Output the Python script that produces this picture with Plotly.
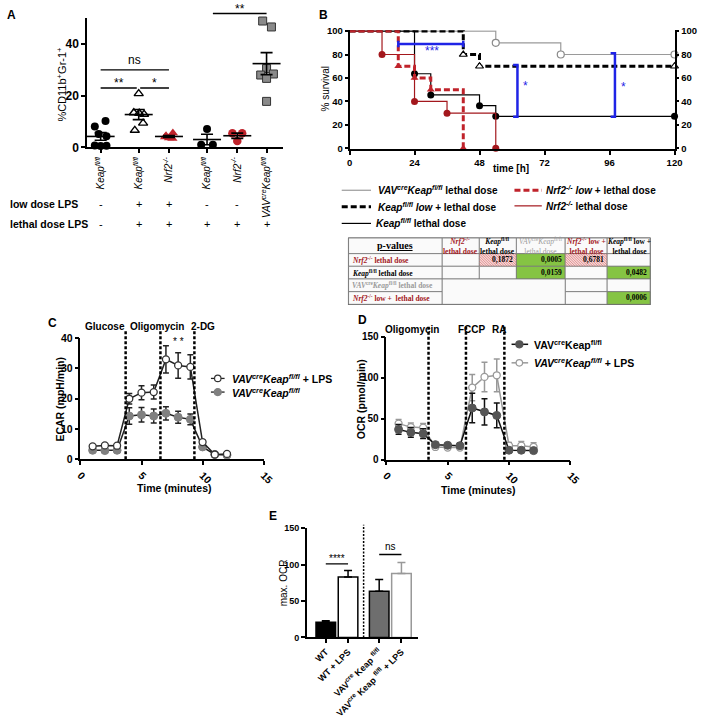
import numpy as np
import plotly.graph_objects as go

W, H = 708, 718
SANS = "Liberation Sans, Arial, sans-serif"
SERIF = "Liberation Serif, Times New Roman, serif"
RED = "#C0232B"
DARKRED = "#A3171C"
BLUE = "#1F24E6"
GREEN = "#85C443"

# ======================= DATA =======================
# ---- Panel A: %CD11b+Gr-1+ ----
A_tick_labels = ["<i>Keap<sup>fl/fl</sup></i>", "<i>Keap<sup>fl/fl</sup></i>", "<i>Nrf2<sup>-/-</sup></i>",
                 "<i>Keap<sup>fl/fl</sup></i>", "<i>Nrf2<sup>-/-</sup></i>",
                 "<i>VAV<sup>cre</sup>Keap<sup>fl/fl</sup></i>"]
A_keap_ctrl = [10.2, 8.1, 5.2, 4.3, 0.7, 0.5, 0.6]
A_keap_low = [20.8, 13.4, 13.2, 12.8, 9.4, 6.6]
A_nrf2_low = [5.6, 4.5, 3.6, 3.4, 4.0]
A_keap_lethal = [7.1, 1.0, 1.0]
A_nrf2_lethal = [5.5, 5.5, 2.5]
A_vav_lethal = [48.9, 46.6, 30.5, 28.4, 28.0, 26.7, 17.8]
A_low_dose = ["-", "+", "+", "-", "-", ""]
A_lethal_dose = ["-", "+", "+", "+", "+", "+"]
A_sig = [("ns", 0, 2, 30.0), ("**", 0, 1, 23.0), ("*", 1, 2, 23.0), ("**", 3, 5, 51.8)]

# ---- Panel B: survival ----
B_ticks_x = [0, 24, 48, 72, 96, 120]
B_ticks_y = [0, 20, 40, 60, 80, 100]
B_vav_t = [0, 54, 78, 120]
B_vav_s = [100, 90, 80, 80]
B_keap_low_t = [0, 42, 48, 120]
B_keap_low_s = [100, 80, 70, 70]
B_keap_t = [0, 24, 30, 48, 54, 120]
B_keap_s = [100, 63.6, 45.5, 36.4, 27.3, 27.3]
B_nrf2_t = [0, 12, 24, 36, 54]
B_nrf2_s = [100, 80, 40, 30, 0]
B_nrf2_low_t = [0, 18, 24, 30, 42]
B_nrf2_low_s = [100, 70, 60, 50, 0]
B_sig_labels = ["***", "*", "*"]
B_sig_h = (18, 42, 89)                  # x0, x1, y
B_sig_v = [(62, 27, 71), (98, 27, 81)]  # x, y0, y1

# ---- Table of p-values ----
T_header = ["<b><u>p-values</u></b>",
            "<b><i>Nrf2</i><sup>-/-</sup><br>lethal dose</b>",
            "<b><i>Keap</i><sup>fl/fl</sup><br>lethal dose</b>",
            "<i>VAV</i><sup>cre</sup><i>Keap</i><sup>fl/fl</sup><br>lethal dose",
            "<b><i>Nrf2</i><sup>-/-</sup> low +<br>lethal dose</b>",
            "<b><i>Keap</i><sup>fl/fl</sup> low +<br>lethal dose</b>"]
T_row_labels = ["<b><i>Nrf2</i><sup>-/-</sup> lethal dose</b>",
                "<b><i>Keap</i><sup>fl/fl</sup> lethal dose</b>",
                "<b><i>VAV</i><sup>cre</sup><i>Keap</i><sup>fl/fl</sup> lethal dose</b>",
                "<b><i>Nrf2</i><sup>-/-</sup> low +  lethal dose</b>"]
T_pvalues = [["", "0,1872", "0,0005", "0,6781", ""],
             ["", "", "0,0159", "", "0,0482"],
             [None, None, None, "", ""],
             [None, None, None, "", "0,0006"]]
T_fill = [["", "h", "g", "h", ""],
          ["", "", "g", "", "g"],
          [None, None, None, "", ""],
          [None, None, None, "", "g"]]

# ---- Panel C: ECAR ----
C_time = [1, 2, 3, 4, 5, 6, 7, 8, 9, 10, 11, 12]
C_lps = [4.3, 4.6, 4.5, 20.0, 22.0, 22.2, 33.0, 31.0, 30.5, 5.7, 1.6, 1.8]
C_lps_err = [0.5, 0.5, 0.5, 1.7, 2.3, 2.3, 4.5, 4.2, 4.0, 0.6, 0.5, 0.5]
C_ctrl = [3.0, 2.9, 3.0, 14.3, 14.7, 14.3, 15.2, 13.9, 13.2, 4.1, 1.6, 1.4]
C_ctrl_err = [0.5, 0.4, 0.4, 2.7, 2.4, 2.3, 2.2, 2.0, 1.8, 0.6, 0.3, 0.3]
C_inject_t = [3.7, 6.55, 9.33]
C_inject_labels = ["Glucose", "Oligomycin", "2-DG"]

# ---- Panel D: OCR ----
D_time = [1, 2, 3, 4, 5, 6, 7, 8, 9, 10, 11, 12]
D_ctrl = [36.9, 33.3, 31.7, 18.3, 17.5, 17.0, 63.0, 58.3, 54.0, 11.5, 11.5, 11.0]
D_ctrl_err = [6, 6, 6, 2, 2, 2, 18, 16, 15, 2, 2, 2]
D_lps = [44.0, 39.7, 39.0, 15.5, 14.7, 14.7, 88.0, 101.0, 103.0, 17.0, 17.0, 15.5]
D_lps_err = [5, 5, 5, 2, 2, 2, 16, 18, 20, 4, 5, 5]
D_inject_t = [3.44, 6.49, 9.62]
D_inject_labels = ["Oligomycin", "FCCP", "RA"]

# ---- Panel E: max OCR ----
E_labels = ["WT", "WT + LPS", "VAV<sup>cre</sup> Keap <sup>fl/fl</sup>",
            "VAV<sup>cre</sup> Keap <sup>fl/fl</sup> + LPS"]
E_values = [21, 83, 63.5, 88]
E_err = [2, 9, 16, 15]
E_sig = [("****", 0, 1, 101), ("ns", 2, 3, 114)]

# ======================= LAYOUT / STYLE =======================
A_pos = [1.4, 5.3, 8.4, 12.3, 15.4, 18.4]
A_jitter = [[0.5, -0.6, -0.2, 0.6, -0.6, 0.0, 0.6],
            [0.0, -0.5, 0.05, 0.55, 0.45, -0.4],
            [0.4, -0.3, 0.0, 0.35, -0.4],
            [0.0, -0.6, 0.6],
            [-0.5, 0.5, 0.0],
            [-0.4, 0.5, 0.0, 0.7, -0.6, 0.0, 0.0]]
A_sig_pad = [(0, 0), (0, -0.2), (0.15, 0), (0.6, 0)]
E_pos = [0, 1, 2.4, 3.4]
T_cols = [352, 448, 486, 524, 574, 617, 661]
T_rows = [238, 254, 267, 280, 293, 306]


def px(x):
    return x / W


def py(y):
    return 1 - y / H


def A_ypx(v):
    return 145 - v * 2.65


fig = go.Figure()
shapes = []
anns = []


def text(t, x, y, size=10, color="black", xanchor="center", yanchor="middle", family=SANS,
         angle=0, xref="paper", yref="paper", **kw):
    if xref == "paper":
        x = px(x)
    if yref == "paper":
        y = py(y)
    anns.append(dict(text=t, x=x, y=y, xref=xref, yref=yref, showarrow=False, xanchor=xanchor,
                     yanchor=yanchor, textangle=angle,
                     font=dict(family=family, size=size, color=color), **kw))


def pline(x0, y0, x1, y1, color="black", width=1.0, dash=None, xref="paper", yref="paper"):
    if xref == "paper":
        x0, x1 = px(x0), px(x1)
    if yref == "paper":
        y0, y1 = py(y0), py(y1)
    ln = dict(color=color, width=width)
    if dash:
        ln["dash"] = dash
    shapes.append(dict(type="line", x0=x0, y0=y0, x1=x1, y1=y1, xref=xref, yref=yref, line=ln))


def prect(x0, y0, x1, y1, fill="white", line="#777", width=0.8):
    shapes.append(dict(type="rect", xref="paper", yref="paper", x0=px(x0), x1=px(x1),
                       y0=py(y1), y1=py(y0), fillcolor=fill, line=dict(color=line, width=width)))


def pcircle(cx, cy, r, fill, line, width=1.2):
    shapes.append(dict(type="circle", xref="paper", yref="paper", x0=px(cx - r), x1=px(cx + r),
                       y0=py(cy + r), y1=py(cy - r), fillcolor=fill, line=dict(color=line, width=width)))


AX = dict(showline=True, linecolor="black", linewidth=1.5, ticks="outside", ticklen=4, tickwidth=1.5,
          tickcolor="black", showgrid=False, zeroline=False, fixedrange=True,
          tickfont=dict(family=SANS, size=10, color="black", weight="bold"))


def mk(**kw):
    d = dict(AX)
    d.update(kw)
    return d


axes = dict(
    xaxis=mk(domain=[px(84), px(285)], range=[0, 20.1], anchor="y", tickmode="array", tickvals=A_pos,
             ticktext=A_tick_labels, tickangle=-90,
             tickfont=dict(family=SANS, size=10, color="black")),
    yaxis=mk(domain=[py(145), py(A_ypx(50))], range=[0, 50], anchor="x", tickmode="array",
             tickvals=[0, 20, 40], tickfont=dict(family=SANS, size=12, color="black", weight="bold")),
    xaxis2=mk(domain=[px(353), px(686)], range=[0, 120], anchor="y2", tickmode="array",
              tickvals=B_ticks_x, tickfont=dict(family=SANS, size=9.5, color="black", weight="bold")),
    yaxis2=mk(domain=[py(146.7), py(25.0)], range=[-0.6, 100.6], anchor="x2", tickmode="array",
              tickvals=B_ticks_y, ticklen=3,
              tickfont=dict(family=SANS, size=9.5, color="black", weight="bold")),
    yaxis3=mk(overlaying="y2", side="right", range=[-0.6, 100.6], anchor="x2", tickmode="array",
              tickvals=B_ticks_y, ticklen=3, tickfont=dict(family=SANS, size=9.5, color="black", weight="bold")),
    xaxis3=mk(domain=[px(77.3), px(265)], range=[0, 15], anchor="y4", tickmode="array",
              tickvals=[0, 5, 10, 15], tickangle=45,
              tickfont=dict(family=SANS, size=10.5, color="black", weight="bold")),
    yaxis4=mk(domain=[py(465), py(340.7)], range=[0, 40], anchor="x3", tickmode="array",
              tickvals=[0, 10, 20, 30, 40], tickfont=dict(family=SANS, size=10.5, color="black", weight="bold")),
    xaxis4=mk(domain=[px(390.7), px(579.3)], range=[0, 15], anchor="y5", tickmode="array",
              tickvals=[0, 5, 10, 15], tickangle=45,
              tickfont=dict(family=SANS, size=10.5, color="black", weight="bold")),
    yaxis5=mk(domain=[py(465.3), py(339.3)], range=[0, 150], anchor="x4", tickmode="array",
              tickvals=[0, 50, 100, 150], tickfont=dict(family=SANS, size=10, color="black", weight="bold")),
    xaxis5=mk(domain=[px(309.3), px(423.3)], range=[-0.85, 4.15], anchor="y6", tickmode="array",
              tickvals=E_pos, ticktext=E_labels, tickangle=-45,
              tickfont=dict(family=SANS, size=9, color="black", weight="bold")),
    yaxis6=mk(domain=[py(647.7), py(535.7)], range=[0, 150], anchor="x5", tickmode="array",
              tickvals=[0, 50, 100, 150], tickfont=dict(family=SANS, size=9, color="black", weight="bold")),
)

# ======================= PANEL A =======================
A_groups = [A_keap_ctrl, A_keap_low, A_nrf2_low, A_keap_lethal, A_nrf2_lethal, A_vav_lethal]
A_marker_styles = [
    dict(symbol="circle", color="black", size=8),
    dict(symbol="triangle-up-open", color="black", size=8, line=dict(width=1.4, color="black")),
    dict(symbol="triangle-up", color=RED, size=9),
    dict(symbol="circle", color="black", size=8),
    dict(symbol="circle", color=RED, size=8.5),
    dict(symbol="square", color="#8A8A8A", size=8, line=dict(width=1, color="#333333")),
]
for i, vals in enumerate(A_groups):
    xs = [A_pos[i] + j for j in A_jitter[i]]
    fig.add_trace(go.Scatter(x=xs, y=vals, mode="markers", marker=A_marker_styles[i],
                             xaxis="x", yaxis="y", cliponaxis=False, hoverinfo="skip"))
    arr = np.array(vals, dtype=float)
    m = arr.mean()
    s = arr.std(ddof=1) / np.sqrt(len(arr))
    fig.add_trace(go.Scatter(x=[A_pos[i]], y=[m], mode="markers",
                             marker=dict(symbol="line-ew", size=20, color="black",
                                         line=dict(width=1.6, color="black")),
                             error_y=dict(type="data", array=[s], width=6, thickness=1.6, color="black"),
                             xaxis="x", yaxis="y", cliponaxis=False, hoverinfo="skip"))

for (lab, g0, g1, yv), (p0, p1) in zip(A_sig, A_sig_pad):
    x0, x1 = A_pos[g0] + p0, A_pos[g1] + p1
    shapes.append(dict(type="line", xref="x", yref="paper", x0=x0, x1=x1,
                       y0=py(A_ypx(yv)), y1=py(A_ypx(yv)), line=dict(color="black", width=1.4)))
    shift = 10 if lab == "ns" else 5
    text(lab, (x0 + x1) / 2, A_ypx(yv) - shift, size=12, xref="x")

text("<b>low dose LPS</b>", 3, 203, size=10.5, xanchor="left")
text("<b>lethal dose LPS</b>", 3, 224, size=10.5, xanchor="left")
for i in range(6):
    if A_low_dose[i]:
        text(A_low_dose[i], A_pos[i], 203, size=11, xref="x")
    text(A_lethal_dose[i], A_pos[i], 224, size=11, xref="x")
text("%CD11b<sup>+</sup>Gr-1<sup>+</sup>", 58, 80, size=11, angle=-90)
text("<b>A</b>", 7, 9, size=12)

# ======================= PANEL B =======================
B_series = [
    (B_vav_t, B_vav_s, dict(color="#9A9A9A", width=1.2),
     dict(symbol="circle", size=7, color="white", line=dict(color="#8A8A8A", width=1.2))),
    (B_keap_low_t, B_keap_low_s, dict(color="black", width=3, dash="6px,3px"),
     dict(symbol="triangle-up", size=7, color="white", line=dict(color="black", width=1.2))),
    (B_keap_t, B_keap_s, dict(color="black", width=1.2),
     dict(symbol="circle", size=7, color="black")),
    (B_nrf2_t, B_nrf2_s, dict(color=DARKRED, width=1.2),
     dict(symbol="circle", size=7, color=DARKRED)),
    (B_nrf2_low_t, B_nrf2_low_s, dict(color=RED, width=3, dash="6px,3px"),
     dict(symbol="triangle-up", size=7, color=RED)),
]
for t, s, ln, mkr in B_series:
    mkr = dict(mkr)
    mkr["opacity"] = [0] + [1] * (len(t) - 1)
    fig.add_trace(go.Scatter(x=t, y=s, mode="lines+markers", line=dict(shape="hv", **ln), marker=mkr,
                             xaxis="x2", yaxis="y2", cliponaxis=False, hoverinfo="skip"))
fig.add_trace(go.Scatter(x=[None], y=[None], xaxis="x2", yaxis="y3", showlegend=False))

hx0, hx1, hy = B_sig_h
fig.add_trace(go.Scatter(x=[hx0, hx0, None, hx0, hx1, None, hx1, hx1],
                         y=[hy - 2.8, hy + 2.8, None, hy, hy, None, hy - 2.8, hy + 2.8],
                         mode="lines", line=dict(color=BLUE, width=2.5), xaxis="x2", yaxis="y2",
                         hoverinfo="skip"))
for vx, vy0, vy1 in B_sig_v:
    fig.add_trace(go.Scatter(x=[vx - 1.6, vx, vx, vx - 1.6], y=[vy1, vy1, vy0, vy0], mode="lines",
                             line=dict(color=BLUE, width=2.5), xaxis="x2", yaxis="y2", hoverinfo="skip"))
B_sig_text_pos = [(30.5, 83), (65, 53), (101, 52)]
for lab, (tx, ty) in zip(B_sig_labels, B_sig_text_pos):
    text(lab, tx, ty, size=12, color=BLUE, xref="x2", yref="y2")

text("% survival", 328.5, 85, size=10, angle=-90)
text("<b>time [h]</b>", 518, 167, size=10)
text("<b>B</b>", 326, 9, size=12)

# legend B
pline(345, 189, 375, 189, "#9A9A9A", 1.2)
text("<b><i>VAV<sup>cre</sup>Keap<sup>fl/fl</sup></i> lethal dose</b>", 380, 189, size=10, xanchor="left")
pline(345, 206, 375, 206, "black", 3, "6px,3px")
text("<b><i>Keap<sup>fl/fl</sup> low</i> + lethal dose</b>", 380, 206, size=10, xanchor="left")
pline(345, 223, 375, 223, "black", 1.2)
text("<b><i>Keap<sup>fl/fl</sup></i> lethal dose</b>", 378, 223, size=10, xanchor="left")
pline(522, 189, 550, 189, RED, 3, "6px,3px")
text("<b><i>Nrf2<sup>-/-</sup> low</i> + lethal dose</b>", 552, 189, size=10, xanchor="left")
pline(522, 205, 550, 205, DARKRED, 1.2)
text("<b><i>Nrf2<sup>-/-</sup></i> lethal dose</b>", 552, 205, size=10, xanchor="left")

# table
prect(T_cols[0], T_rows[0], T_cols[-1], T_rows[-1], fill="#FAFAFA", line="#555", width=1.2)
for c in range(6):
    prect(T_cols[c], T_rows[0], T_cols[c + 1], T_rows[1], fill="#FAFAFA")
hatch_cells = []
for r in range(4):
    prect(T_cols[0], T_rows[r + 1], T_cols[1], T_rows[r + 2], fill="#FAFAFA")
    for c in range(5):
        f = T_fill[r][c]
        if f is None:
            continue
        col = GREEN if f == "g" else ("#F6D9D9" if f == "h" else "#FAFAFA")
        prect(T_cols[c + 1], T_rows[r + 1], T_cols[c + 2], T_rows[r + 2], fill=col)
        if f == "h":
            hatch_cells.append((T_cols[c + 1], T_rows[r + 1], T_cols[c + 2], T_rows[r + 2]))
prect(T_cols[1], T_rows[3], T_cols[4], T_rows[5], fill="#FAFAFA")
for (x0, y0, x1, y1) in hatch_cells:
    w, h = x1 - x0, y1 - y0
    cc = -h
    while cc < w:
        lo, hi = max(0, cc), min(w, h + cc)
        if hi > lo:
            pline(x0 + lo, y0 + lo - cc, x0 + hi, y0 + hi - cc, "#D46060", 0.6)
        cc += 2.6

header_colors = ["black", DARKRED, "black", "#9A9A9A", DARKRED, "black"]
for c in range(6):
    cx = (T_cols[c] + T_cols[c + 1]) / 2
    text(T_header[c], cx, (T_rows[0] + T_rows[1]) / 2, size=10 if c == 0 else 7.5,
         color=header_colors[c], family=SERIF)
row_colors = [DARKRED, "black", "#9A9A9A", DARKRED]
for r in range(4):
    cy = (T_rows[r + 1] + T_rows[r + 2]) / 2
    text(T_row_labels[r], T_cols[0] + 1, cy, size=7.5, color=row_colors[r], family=SERIF, xanchor="left")
    for c in range(5):
        v = T_pvalues[r][c]
        if v:
            text("<b>" + v + "</b>", T_cols[c + 2] - 1, cy, size=7.5, family=SERIF, xanchor="right")

# ======================= PANEL C =======================
for xv in C_inject_t:
    shapes.append(dict(type="line", xref="x3", yref="paper", x0=xv, x1=xv, y0=py(465), y1=py(333),
                       line=dict(color="black", width=2.5, dash="3px,2px")))
fig.add_trace(go.Scatter(x=C_time, y=C_ctrl, mode="lines+markers", line=dict(color="#222222", width=1.5),
                         marker=dict(symbol="circle", size=8, color="#808080", line=dict(color="#808080", width=1)),
                         error_y=dict(type="data", array=C_ctrl_err, width=3, thickness=1.5, color="#222222"),
                         xaxis="x3", yaxis="y4", cliponaxis=False, hoverinfo="skip"))
fig.add_trace(go.Scatter(x=C_time, y=C_lps, mode="lines+markers", line=dict(color="#222222", width=1.5),
                         marker=dict(symbol="circle", size=7, color="white", line=dict(color="#333333", width=1.3)),
                         error_y=dict(type="data", array=C_lps_err, width=3, thickness=1.5, color="#222222"),
                         xaxis="x3", yaxis="y4", cliponaxis=False, hoverinfo="skip"))
C_label_x = [2.03, 6.3, 10.06]
for lab, lx in zip(C_inject_labels, C_label_x):
    text("<b>" + lab + "</b>", lx, 329, size=10, xref="x3")
text("* *", 8.0, 38.9, size=10, xref="x3", yref="y4")
text("<b>ECAR (mpH/min)</b>", 56, 403, size=10.5, angle=-90)
text("<b>Time (minutes)</b>", 173, 494, size=10.5)
text("<b>C</b>", 48.5, 325, size=12)
pline(211, 382, 225, 382, "#222222", 1.3)
pcircle(218, 382, 3.3, "white", "#333333")
text("<b><i>VAV<sup>cre</sup>Keap<sup>fl/fl</sup></i> + LPS</b>", 231, 382, size=10.5, xanchor="left")
pline(211, 396, 225, 396, "#222222", 1.3)
pcircle(218, 396, 3.6, "#808080", "#808080")
text("<b><i>VAV<sup>cre</sup>Keap<sup>fl/fl</sup></i></b>", 231, 396, size=10.5, xanchor="left")

# ======================= PANEL D =======================
for xv in D_inject_t:
    shapes.append(dict(type="line", xref="x4", yref="paper", x0=xv, x1=xv, y0=py(465.3), y1=py(329),
                       line=dict(color="black", width=2.5, dash="3px,2px")))
fig.add_trace(go.Scatter(x=D_time, y=D_lps, mode="lines+markers", line=dict(color="#999999", width=1.5),
                         marker=dict(symbol="circle", size=7, color="white", line=dict(color="#999999", width=1.3)),
                         error_y=dict(type="data", array=D_lps_err, width=3, thickness=1.5, color="#999999"),
                         xaxis="x4", yaxis="y5", cliponaxis=False, hoverinfo="skip"))
fig.add_trace(go.Scatter(x=D_time, y=D_ctrl, mode="lines+markers", line=dict(color="#111111", width=1.5),
                         marker=dict(symbol="circle", size=8, color="#555555", line=dict(color="#555555", width=1)),
                         error_y=dict(type="data", array=D_ctrl_err, width=3, thickness=1.5, color="#111111"),
                         xaxis="x4", yaxis="y5", cliponaxis=False, hoverinfo="skip"))
D_label_x = [2.07, 6.97, 9.15]
for lab, lx in zip(D_inject_labels, D_label_x):
    text("<b>" + lab + "</b>", lx, 331.5, size=10, xref="x4")
text("<b>OCR (pmol/min)</b>", 365, 403, size=10.5, angle=-90)
text("<b>Time (minutes)</b>", 485, 496, size=10.5)
text("<b>D</b>", 366, 322, size=12)
pline(519, 347, 536, 347, "#111111", 1.5)
pcircle(527, 347, 3.6, "#555555", "#555555")
text("<b>VAV<sup>cre</sup>Keap<sup>fl/fl</sup></b>", 540, 347, size=10.5, xanchor="left")
pline(519, 366, 536, 366, "#999999", 1.5)
pcircle(527, 366, 3.3, "white", "#999999")
text("<b><i>VAV<sup>cre</sup>Keap<sup>fl/fl</sup></i> + LPS</b>", 540, 366, size=10.5, xanchor="left")

# ======================= PANEL E =======================
E_fill = ["black", "white", "#6E6E6E", "white"]
E_line = ["black", "black", "black", "#999999"]
for i in range(4):
    fig.add_trace(go.Bar(x=[E_pos[i]], y=[E_values[i]], width=0.88,
                         marker=dict(color=E_fill[i], line=dict(color=E_line[i], width=1.5)),
                         error_y=dict(type="data", array=[E_err[i]], arrayminus=[0], symmetric=False,
                                      width=4, thickness=1.5, color=E_line[i]),
                         xaxis="x5", yaxis="y6", hoverinfo="skip"))
shapes.append(dict(type="line", xref="x5", yref="paper", x0=1.7, x1=1.7, y0=py(647.7), y1=py(532),
                   line=dict(color="black", width=1.5, dash="2px,1.5px")))
for lab, g0, g1, yv in E_sig:
    shapes.append(dict(type="line", xref="x5", yref="y6", x0=E_pos[g0], x1=E_pos[g1], y0=yv, y1=yv,
                       line=dict(color="black", width=1.3)))
    text(lab, (E_pos[g0] + E_pos[g1]) / 2, yv, size=10, xref="x5", yref="y6",
         yshift=(5 if lab.startswith("*") else 8))
text("max. OCR", 285, 592, size=10, angle=-90)
text("<b>E</b>", 275, 523, size=12)

fig.update_layout(width=W, height=H, margin=dict(l=0, r=0, t=0, b=0), paper_bgcolor="white",
                  plot_bgcolor="rgba(0,0,0,0)", showlegend=False, shapes=shapes, annotations=anns,
                  barmode="overlay", **axes)
fig.write_html("out.html", config={"displayModeBar": False, "responsive": False},
               post_script="document.body.style.margin='0';document.body.style.overflow='hidden';")
